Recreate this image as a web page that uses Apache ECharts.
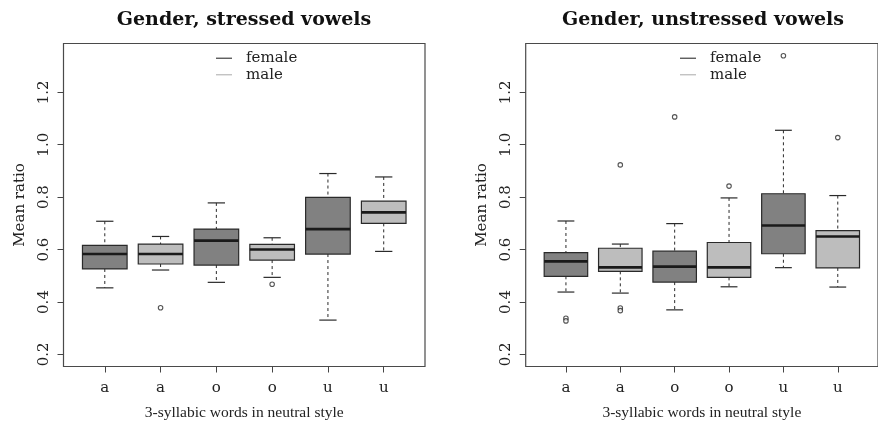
<!DOCTYPE html>
<html>
<head>
<meta charset="utf-8">
<script src="https://cdn.jsdelivr.net/npm/echarts@6/dist/echarts.min.js"></script>
<style>
  html, body { margin: 0; padding: 0; background: #fff; }
  #chart { width: 878px; height: 432px; }
</style>
</head>
<body>
<div id="chart"></div>
<script>
// Vowel categories along the x axis and where each gender's boxes sit
const categories = ['a', 'a', 'o', 'o', 'u', 'u'];
const femalePos = [1, 3, 5];
const malePos = [2, 4, 6];
const yTicks = [0.2, 0.4, 0.6, 0.8, 1.0, 1.2];

// Five-number summaries: [lower whisker, Q1, median, Q3, upper whisker]
const stressedFemale = [
  [0.454, 0.526, 0.583, 0.616, 0.708],
  [0.475, 0.541, 0.634, 0.678, 0.778],
  [0.331, 0.583, 0.678, 0.799, 0.890]
];
const stressedMale = [
  [0.522, 0.545, 0.583, 0.621, 0.650],
  [0.494, 0.560, 0.600, 0.620, 0.645],
  [0.593, 0.700, 0.742, 0.785, 0.877]
];
const stressedOutliers = [[2, 0.378], [4, 0.468]];

const unstressedFemale = [
  [0.438, 0.498, 0.555, 0.588, 0.709],
  [0.370, 0.476, 0.535, 0.594, 0.699],
  [0.531, 0.584, 0.692, 0.813, 1.055]
];
const unstressedMale = [
  [0.434, 0.517, 0.532, 0.605, 0.621],
  [0.458, 0.494, 0.532, 0.627, 0.797],
  [0.457, 0.530, 0.650, 0.672, 0.806]
];
const unstressedOutliers = [
  [1, 0.338], [1, 0.328], [2, 0.923], [2, 0.377], [2, 0.367],
  [3, 1.106], [4, 0.842], [5, 1.339], [6, 1.027]
];

const FONT = 'DejaVu Serif';
const LABEL_FONT = 'Liberation Serif';
const FEMALE_FILL = '#818181';
const MALE_FILL = '#bdbdbd';
const INK = '#2a2a2a';

function withPos(pos, rows) {
  return rows.map((r, i) => [pos[i]].concat(r));
}

// Draws one R-style box: dashed whiskers, solid staples, framed box, heavy median
function boxRenderer(fill) {
  return function (params, api) {
    const x = api.value(0);
    const lw = api.value(1), q1 = api.value(2), med = api.value(3), q3 = api.value(4), uw = api.value(5);
    const half = 0.4, staple = 0.155;
    const tl = api.coord([x - half, q3]);
    const br = api.coord([x + half, q1]);
    const mid = api.coord([x, med]);
    const top = api.coord([x, uw]);
    const bot = api.coord([x, lw]);
    const sL = api.coord([x - staple, uw])[0];
    const sR = api.coord([x + staple, uw])[0];
    const dash = { stroke: INK, lineWidth: 1, lineDash: [3, 3] };
    const solid = { stroke: INK, lineWidth: 1.2 };
    return {
      type: 'group',
      children: [
        { type: 'line', shape: { x1: top[0], y1: top[1], x2: top[0], y2: tl[1] }, style: dash },
        { type: 'line', shape: { x1: bot[0], y1: br[1], x2: bot[0], y2: bot[1] }, style: dash },
        { type: 'line', shape: { x1: sL, y1: top[1], x2: sR, y2: top[1] }, style: solid },
        { type: 'line', shape: { x1: sL, y1: bot[1], x2: sR, y2: bot[1] }, style: solid },
        { type: 'rect', shape: { x: tl[0], y: tl[1], width: br[0] - tl[0], height: br[1] - tl[1] },
          style: { fill: fill, stroke: INK, lineWidth: 1.2 } },
        { type: 'line', shape: { x1: tl[0], y1: mid[1], x2: br[0], y2: mid[1] },
          style: { stroke: '#1a1a1a', lineWidth: 2.6 } }
      ]
    };
  };
}

const grids = [
  { left: 63.5, top: 43.5, width: 361.5, height: 323 },
  { left: 525.7, top: 43.5, width: 361.5, height: 323 }
];

function xAxisFor(i) {
  return {
    type: 'value', gridIndex: i, min: 0.26, max: 6.74,
    name: '3-syllabic words in neutral style', nameLocation: 'middle', nameGap: 38,
    nameTextStyle: { fontFamily: LABEL_FONT, fontSize: 15.5, color: '#222' },
    axisLine: { show: false },
    splitLine: { show: false },
    axisTick: { show: true, length: 6, customValues: [1, 2, 3, 4, 5, 6], lineStyle: { color: '#444' } },
    axisLabel: {
      customValues: [1, 2, 3, 4, 5, 6], margin: 14,
      formatter: v => categories[Math.round(v) - 1],
      fontFamily: FONT, fontSize: 15, color: '#222'
    }
  };
}

function yAxisFor(i) {
  return {
    type: 'value', gridIndex: i, min: 0.154, max: 1.386,
    name: 'Mean ratio', nameLocation: 'middle', nameGap: 36, nameRotate: 90,
    nameTextStyle: { fontFamily: FONT, fontSize: 15, color: '#222' },
    axisLine: { show: false },
    splitLine: { show: false },
    axisTick: { show: true, length: 6, customValues: yTicks, lineStyle: { color: '#444' } },
    axisLabel: {
      customValues: yTicks, rotate: 90, margin: 12,
      formatter: v => v.toFixed(1),
      fontFamily: FONT, fontSize: 15, color: '#222'
    }
  };
}

function panelSeries(i, fem, mal, outl) {
  return [
    { name: 'female', type: 'custom', xAxisIndex: i, yAxisIndex: i,
      itemStyle: { color: '#4f4f4f' },
      encode: { x: 0, y: [1, 2, 3, 4, 5] },
      renderItem: boxRenderer(FEMALE_FILL), data: withPos(femalePos, fem) },
    { name: 'male', type: 'custom', xAxisIndex: i, yAxisIndex: i,
      itemStyle: { color: '#bdbdbd' },
      encode: { x: 0, y: [1, 2, 3, 4, 5] },
      renderItem: boxRenderer(MALE_FILL), data: withPos(malePos, mal) },
    { name: 'outliers', type: 'scatter', xAxisIndex: i, yAxisIndex: i,
      symbol: 'circle', symbolSize: 4.5,
      itemStyle: { color: '#fff', borderColor: INK, borderWidth: 1.1 },
      data: outl }
  ];
}

function legendFor(left) {
  return {
    orient: 'vertical', left: left, top: 45,
    data: ['female', 'male'],
    icon: 'rect', itemWidth: 16, itemHeight: 1.3, itemGap: 0,
    textStyle: { fontFamily: FONT, fontSize: 15, color: '#222', lineHeight: 16.5, padding: [0, 0, 0, 9] },
    selectedMode: false
  };
}

const chart = echarts.init(document.getElementById('chart'), null, { renderer: 'canvas' });
chart.setOption({
  animation: false,
  backgroundColor: '#fff',
  title: [
    { text: 'Gender, stressed vowels', left: 239, top: 6, textAlign: 'center',
      textStyle: { fontFamily: FONT, fontWeight: 'bold', fontSize: 19, color: '#111' } },
    { text: 'Gender, unstressed vowels', left: 698, top: 6, textAlign: 'center',
      textStyle: { fontFamily: FONT, fontWeight: 'bold', fontSize: 19, color: '#111' } }
  ],
  legend: [legendFor(211), legendFor(675)],
  grid: grids.map(g => Object.assign({ show: true, borderColor: '#4a4a4a', borderWidth: 1.2, backgroundColor: 'transparent' }, g)),
  xAxis: [xAxisFor(0), xAxisFor(1)],
  yAxis: [yAxisFor(0), yAxisFor(1)],
  series: panelSeries(0, stressedFemale, stressedMale, stressedOutliers)
    .concat(panelSeries(1, unstressedFemale, unstressedMale, unstressedOutliers))
});
</script>
</body>
</html>
